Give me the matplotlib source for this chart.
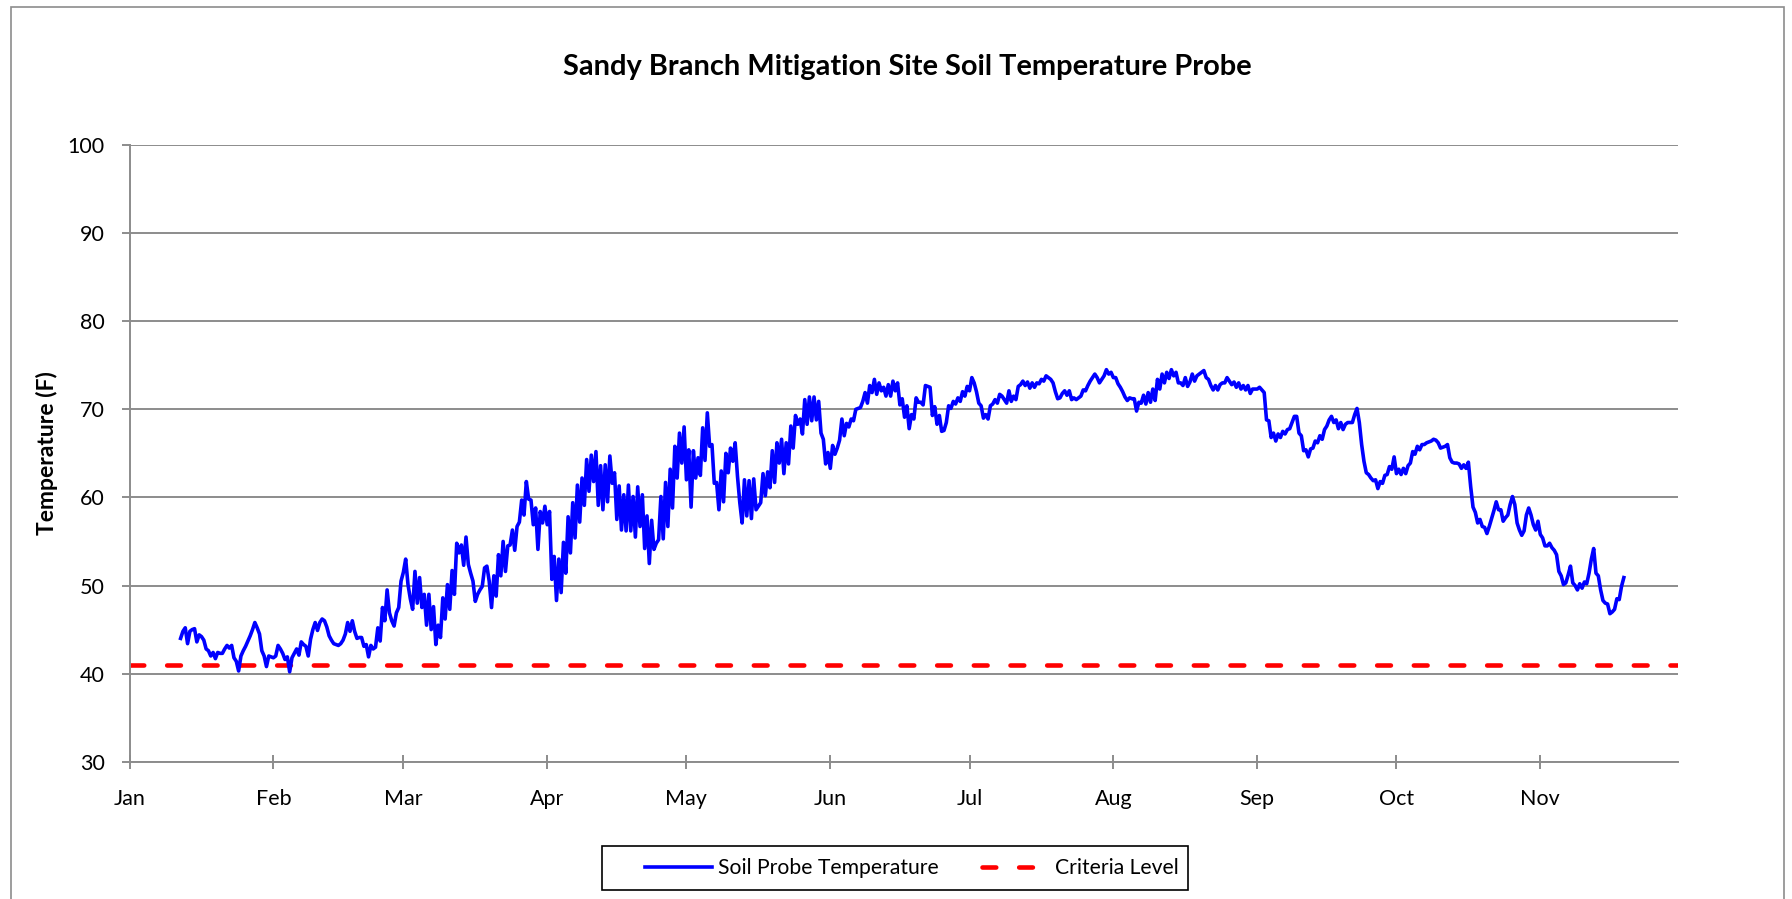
import numpy as np
import pandas as pd
import matplotlib
matplotlib.use("Agg")
import matplotlib.pyplot as plt
import matplotlib.dates as mdates
from matplotlib.patches import Rectangle

plt.rcParams['font.family'] = ['Lato', 'DejaVu Sans']

# Soil probe readings, every 12 hours starting Jan 12
inicio = "2013-01-12 00:00"
temps = [
    44.0, 44.8, 45.2, 43.4, 44.8, 45.0, 45.1, 43.6, 44.4, 44.2,
    43.8, 42.8, 42.6, 42.0, 42.4, 41.7, 42.4, 42.3, 42.3, 42.8,
    43.2, 42.9, 43.2, 41.8, 41.4, 40.3, 42.0, 42.6, 43.1, 43.7,
    44.3, 45.0, 45.8, 45.2, 44.5, 42.6, 42.0, 40.8, 42.0, 41.9,
    41.8, 42.0, 43.2, 42.8, 42.3, 41.6, 41.9, 40.2, 41.8, 42.3,
    42.8, 42.1, 43.6, 43.3, 43.1, 42.0, 43.9, 45.0, 45.8, 44.9,
    45.8, 46.2, 46.0, 45.3, 44.3, 43.8, 43.4, 43.3, 43.2, 43.4,
    43.8, 44.5, 45.8, 44.8, 46.0, 44.8, 44.0, 44.1, 44.1, 43.1,
    43.3, 41.9, 43.2, 42.8, 43.0, 45.2, 43.7, 47.5, 46.0, 49.5,
    46.9, 46.0, 45.4, 46.9, 47.5, 50.5, 51.5, 53.0, 50.1, 48.5,
    47.3, 51.6, 48.0, 50.9, 47.5, 49.0, 45.5, 49.0, 45.0, 47.6,
    43.3, 45.5, 44.1, 48.6, 46.2, 50.1, 47.3, 51.7, 49.0, 54.8,
    53.7, 54.6, 52.3, 55.5, 52.4, 51.4, 50.5, 48.2, 49.0, 49.5,
    49.9, 52.0, 52.2, 50.5, 47.5, 51.1, 48.8, 53.5, 51.1, 55.0,
    51.6, 54.5, 54.6, 56.3, 54.0, 56.7, 57.2, 59.7, 58.0, 61.8,
    59.8, 59.7, 56.9, 58.8, 54.1, 58.4, 57.1, 59.0, 56.9, 58.4,
    50.7, 53.3, 48.3, 53.0, 49.2, 54.9, 51.4, 57.8, 53.7, 59.4,
    55.4, 61.4, 57.2, 62.2, 59.1, 64.3, 60.7, 64.8, 61.8, 65.2,
    59.1, 63.6, 58.6, 63.7, 59.5, 64.7, 61.6, 62.8, 57.5, 61.3,
    56.3, 60.3, 56.2, 61.4, 56.2, 60.1, 55.5, 61.2, 56.7, 60.3,
    54.2, 57.9, 52.5, 57.4, 54.1, 54.8, 55.2, 60.1, 55.3, 61.7,
    56.7, 63.2, 58.8, 65.8, 62.2, 67.3, 63.9, 68.0, 62.0, 65.4,
    58.9, 65.3, 62.2, 64.5, 62.5, 67.9, 64.2, 69.6, 65.8, 66.0,
    61.6, 61.7, 58.6, 63.0, 59.5, 65.0, 62.8, 65.6, 64.1, 66.2,
    62.4, 59.4, 57.1, 62.0, 57.9, 61.9, 57.6, 62.1, 58.6, 59.0,
    59.4, 62.7, 60.2, 62.9, 61.1, 65.3, 61.7, 66.2, 63.9, 66.6,
    62.7, 66.2, 63.8, 68.1, 65.6, 69.3, 68.3, 68.9, 67.2, 71.1,
    68.3, 71.4, 68.7, 71.4, 68.8, 70.9, 67.3, 66.6, 63.8, 65.1,
    63.3, 65.9, 64.9, 65.6, 66.5, 68.9, 67.0, 68.4, 68.0, 68.9,
    68.7, 70.0, 70.1, 70.2, 70.9, 71.9, 70.7, 72.7, 71.9, 73.4,
    71.7, 73.0, 72.1, 72.5, 71.5, 72.8, 71.5, 73.2, 72.1, 73.0,
    70.5, 71.2, 69.1, 70.4, 67.8, 69.4, 68.9, 71.3, 70.8, 70.8,
    70.5, 72.7, 72.6, 72.5, 69.3, 70.3, 68.3, 69.3, 67.5, 67.6,
    68.5, 70.4, 70.1, 70.9, 70.6, 71.3, 70.9, 72.0, 71.5, 72.6,
    72.1, 73.6, 73.0, 72.0, 70.7, 70.4, 69.0, 69.4, 68.9, 70.4,
    70.6, 71.1, 70.7, 71.7, 71.5, 71.1, 70.7, 72.1, 70.9, 71.5,
    71.1, 72.6, 72.8, 73.2, 72.7, 73.1, 72.4, 73.0, 72.5, 73.0,
    72.9, 73.4, 73.2, 73.8, 73.6, 73.4, 73.0, 72.0, 71.2, 71.3,
    71.8, 72.1, 71.6, 72.1, 71.1, 71.3, 71.1, 71.3, 71.5, 72.2,
    72.1, 72.7, 73.2, 73.6, 74.0, 73.6, 73.0, 73.4, 73.8, 74.5,
    74.0, 74.2, 73.6, 73.6, 72.9, 72.5, 72.0, 71.4, 71.0, 71.3,
    71.2, 71.2, 69.8, 70.8, 70.7, 71.6, 70.6, 71.9, 70.8, 72.3,
    71.0, 73.4, 72.3, 74.0, 73.0, 74.2, 73.5, 74.5, 73.8, 74.2,
    73.0, 73.0, 72.7, 73.6, 72.6, 73.1, 74.0, 73.2, 73.8, 74.0,
    74.2, 74.4, 73.6, 73.4, 72.7, 72.2, 72.7, 72.2, 72.8, 73.0,
    73.0, 73.6, 73.2, 72.8, 73.1, 72.5, 73.0, 72.3, 72.7, 72.2,
    72.7, 71.8, 72.3, 72.3, 72.3, 72.5, 72.2, 71.9, 68.8, 68.7,
    66.8, 67.3, 66.4, 67.2, 66.8, 67.5, 67.2, 67.7, 67.8, 68.5,
    69.2, 69.2, 67.3, 67.0, 65.3, 65.4, 64.6, 65.5, 65.6, 66.4,
    66.2, 67.0, 66.6, 67.7, 68.1, 68.8, 69.2, 68.5, 68.8, 67.8,
    68.5, 67.7, 68.3, 68.5, 68.5, 68.5, 69.4, 70.1, 68.5, 66.0,
    64.1, 62.8, 62.6, 62.2, 61.9, 62.0, 61.0, 61.8, 61.6, 62.5,
    62.6, 63.5, 63.2, 64.6, 62.7, 63.2, 62.6, 63.3, 62.7, 63.6,
    63.9, 65.2, 64.9, 65.8, 65.4, 66.0, 66.0, 66.2, 66.3, 66.4,
    66.6, 66.5, 66.2, 65.6, 65.7, 65.8, 66.0, 64.5, 64.0, 63.9,
    63.9, 63.8, 63.3, 63.7, 63.3, 64.0, 61.2, 58.9, 58.3, 57.1,
    57.5, 56.7, 56.6, 55.9, 56.7, 57.6, 58.5, 59.5, 58.6, 58.6,
    57.3, 57.7, 58.0, 59.2, 60.1, 59.2, 57.1, 56.3, 55.7, 56.2,
    58.0, 58.8, 58.0, 56.9, 56.3, 57.3, 55.8, 55.4, 54.5, 54.5,
    54.8, 54.3, 54.0, 53.5, 51.6, 51.1, 50.1, 50.3, 51.2, 52.2,
    50.3, 50.0, 49.5, 50.2, 49.7, 50.4, 50.2, 51.4, 53.0, 54.2,
    51.4, 51.1, 49.5, 48.3, 48.0, 47.9, 46.8, 47.0, 47.3, 48.5,
    48.4, 49.9, 50.9,
]
criterio = 41.0
meses = ['Jan', 'Feb', 'Mar', 'Apr', 'May', 'Jun', 'Jul', 'Aug', 'Sep', 'Oct', 'Nov']

fechas = pd.date_range(inicio, periods=len(temps), freq='12h')

gris = '#8c8c8c'
W, H = 1792, 899

fig = plt.figure(figsize=(W / 100, H / 100), dpi=100)
ax = fig.add_axes([0.0723, 0.1527, 0.8639, 0.6860])

ax.plot(fechas, temps, color='#0000ff', lw=2.6, solid_joinstyle='round',
        label='Soil Probe Temperature', zorder=3)
ax.axhline(criterio, color='#ff0000', lw=3.3, dashes=(3.0, 5.0),
           dash_capstyle='round', label='Criteria Level', zorder=2)

# eje x: inicio de cada mes
ticks = pd.date_range('2013-01-01', periods=len(meses), freq='MS')
ax.set_xticks(ticks)
ax.xaxis.set_major_formatter(mdates.DateFormatter('%b'))
x0 = pd.Timestamp('2013-01-01')
ax.set_xlim(x0, x0 + pd.Timedelta(days=333.6))

ax.set_ylim(30, 100)
ax.set_yticks(np.arange(30, 101, 10))
ax.grid(axis='y', color=gris, lw=1.4)
ax.set_axisbelow(True)

for lado in ['top', 'right']:
    ax.spines[lado].set_visible(False)
for lado in ['left', 'bottom']:
    ax.spines[lado].set_color(gris)
    ax.spines[lado].set_linewidth(1.4)

ax.tick_params(axis='x', direction='inout', length=10.4, width=1.4, color=gris,
               labelsize=15.5, pad=14.6)
ax.tick_params(axis='y', direction='out', length=5.8, width=1.4, color=gris,
               labelsize=15.5, pad=12)

ax.set_ylabel('Temperature (F)', fontsize=16.5, fontweight='bold')
ax.yaxis.set_label_coords(-0.0463, 0.5)

fig.text(0.5064, 0.9161, 'Sandy Branch Mitigation Site Soil Temperature Probe',
         ha='center', va='baseline', fontsize=20.9, fontweight='bold')

# leyenda sin marco; el recuadro se dibuja aparte
ley = fig.legend(loc='center left', bbox_to_anchor=(645 / W, 1 - 868 / H), ncol=2,
                 fontsize=15.2, frameon=False, borderpad=0, borderaxespad=0,
                 handlelength=3.17, handletextpad=0.31, columnspacing=2.02)
fig.patches.append(Rectangle((601.7 / W, 1 - 890 / H), 586 / W, 44 / H,
                             transform=fig.transFigure, fill=False,
                             edgecolor='black', lw=1.2))

# borde del area del grafico
fig.patches.append(Rectangle((10.7 / W, -0.02), (1784 - 10.7) / W,
                             1 - 7.3 / H + 0.02, transform=fig.transFigure,
                             fill=False, edgecolor=gris, lw=1.2))

fig.savefig('out.png', dpi=100)
